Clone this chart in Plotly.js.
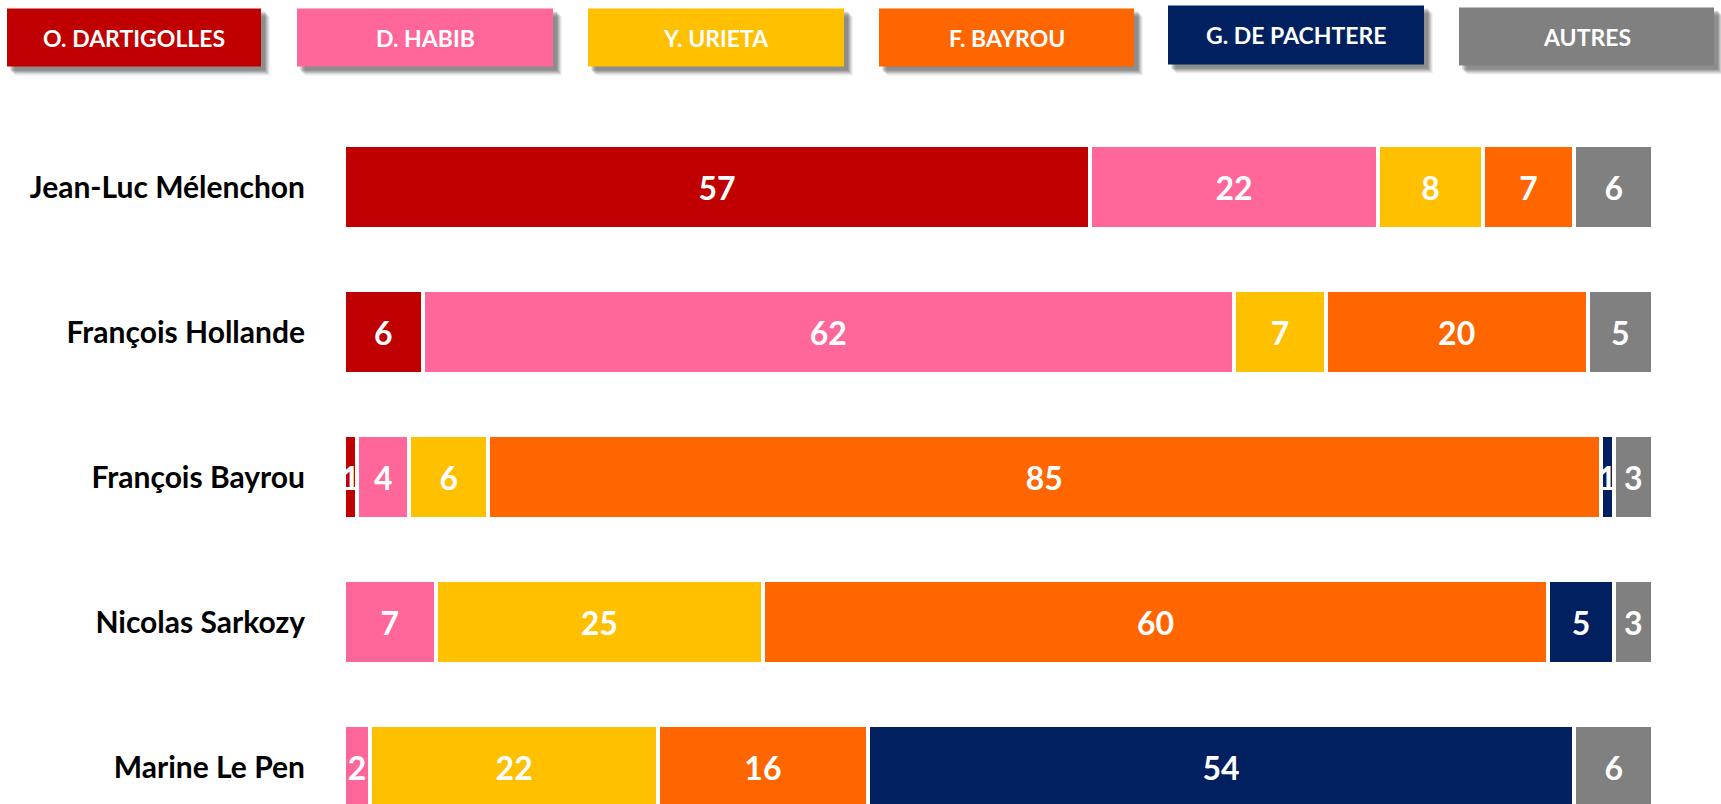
<!DOCTYPE html>
<html>
<head>
<meta charset="utf-8">
<script src="https://cdn.plot.ly/plotly-3.0.1.min.js"></script>
<style>html,body{margin:0;padding:0;background:#fff;}#chart{width:1721px;height:804px;}</style>
</head>
<body>
<div id="chart"></div>
<script>
const categories = ['Jean-Luc Mélenchon', 'François Hollande', 'François Bayrou', 'Nicolas Sarkozy', 'Marine Le Pen'];
const seriesNames = ['O. DARTIGOLLES', 'D. HABIB', 'Y. URIETA', 'F. BAYROU', 'G. DE PACHTERE', 'AUTRES'];
const dartigolles = [57, 6, 1, 0, 0];
const habib = [22, 62, 4, 7, 2];
const urieta = [8, 7, 6, 25, 22];
const bayrou = [7, 20, 85, 60, 16];
const pachtere = [0, 0, 1, 5, 54];
const autres = [6, 5, 3, 3, 6];
const colors = ['#C00000', '#FF6699', '#FFC000', '#FF6600', '#002060', '#808080'];

const seriesValues = [dartigolles, habib, urieta, bayrou, pachtere, autres];

const W = 1721, H = 804;
const ml = 344, mr = 68, mt = 114.5, mb = 0;
const pw = W - ml - mr, ph = H - mt - mb;
const px = x => (x - ml) / pw;
const py = y => (H - mb - y) / ph;

const traces = seriesValues.map((vals, i) => ({
  type: 'bar',
  orientation: 'h',
  name: seriesNames[i],
  y: categories,
  x: vals,
  text: vals.map(v => v > 0 ? String(v) : ''),
  textposition: 'inside',
  insidetextanchor: 'middle',
  textangle: 0,
  constraintext: 'none',
  insidetextfont: {family: 'Lato', size: 32, color: '#FFFFFF', weight: 'bold'},
  marker: {color: colors[i], line: {color: '#FFFFFF', width: 4}},
  hoverinfo: 'name+x'
}));

// legend boxes (pixel positions)
const boxes = [
  [7, 8, 261, 66],
  [297, 8, 553, 66],
  [588, 8, 844, 66],
  [879, 8, 1134, 66],
  [1168, 5, 1424, 64],
  [1459, 7, 1714, 65]
];
const shapes = [];
const annotations = [];
boxes.forEach((b, i) => {
  const shadowSteps = [[9, 0.05], [8, 0.07], [7, 0.09], [6, 0.11], [5, 0.12], [4, 0.1]];
  shadowSteps.forEach(([o, a]) => {
    shapes.push({type: 'rect', xref: 'paper', yref: 'paper',
      x0: px(b[0] + o - 1), x1: px(b[2] + o), y0: py(b[3] + o), y1: py(b[1] + o - 1),
      fillcolor: 'rgba(0,0,0,' + a + ')', line: {width: 0}});
  });
});
boxes.forEach((b, i) => {
  shapes.push({type: 'rect', xref: 'paper', yref: 'paper',
    x0: px(b[0]), x1: px(b[2]), y0: py(b[3]), y1: py(b[1]),
    fillcolor: colors[i], line: {width: 0}});
  annotations.push({xref: 'paper', yref: 'paper', x: px((b[0] + b[2]) / 2), y: py((b[1] + b[3]) / 2),
    xanchor: 'center', yanchor: 'middle', showarrow: false, text: seriesNames[i],
    font: {family: 'Lato', size: 23, color: '#FFFFFF', weight: 'bold'}});
});

const layout = {
  width: W, height: H,
  margin: {l: ml, r: mr, t: mt, b: mb, pad: 0},
  paper_bgcolor: '#FFFFFF', plot_bgcolor: '#FFFFFF',
  barmode: 'stack',
  bargap: 0.42,
  showlegend: false,
  xaxis: {range: [0, 100], showgrid: false, zeroline: false, showticklabels: false, showline: false, ticks: '', fixedrange: true},
  yaxis: {type: 'category', range: [-0.5 + ph / 145, -0.5], showgrid: false, zeroline: false, showline: false, ticks: '',
    ticklabelstandoff: 38,
    tickfont: {family: 'Lato', size: 30, color: '#000000', weight: 'bold'}, fixedrange: true},
  shapes: shapes,
  annotations: annotations,
  font: {family: 'Lato'}
};

Plotly.newPlot('chart', traces, layout, {displayModeBar: false, staticPlot: true});
</script>
</body>
</html>
